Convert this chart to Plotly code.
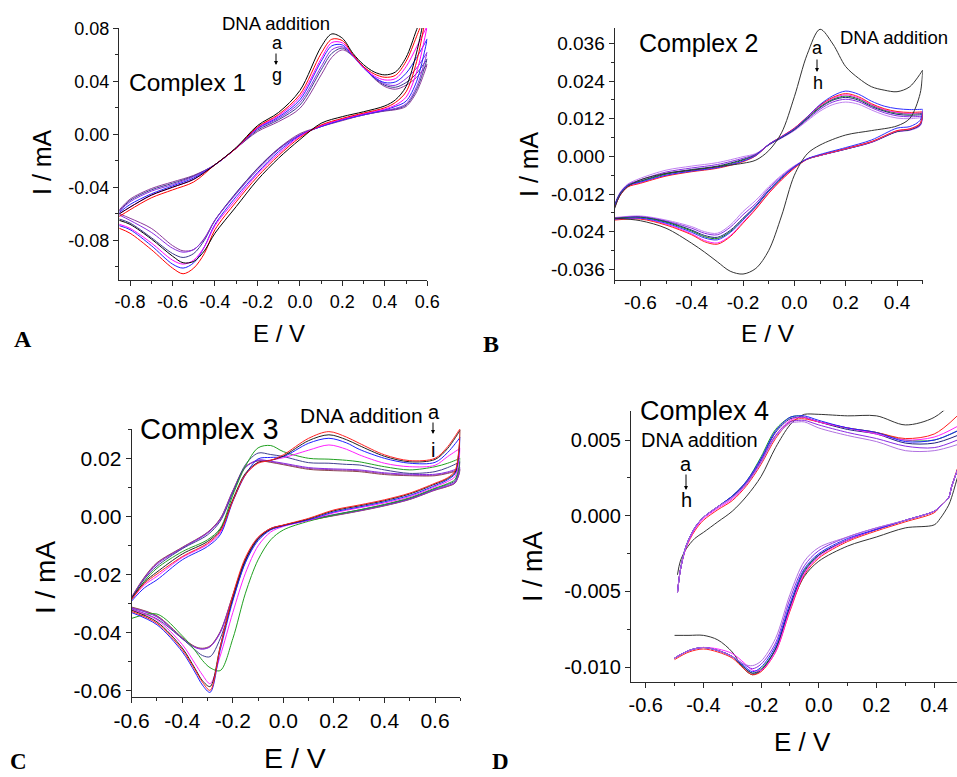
import plotly.graph_objects as go

# ---------------- Complex 1 (panel A) ----------------
A_LABELS = ["a", "b", "c", "d", "e", "f", "g"]
A_E_FWD = [-0.85, -0.8, -0.7, -0.6, -0.5, -0.4, -0.3, -0.2, -0.1, 0.0, 0.1, 0.15,
           0.2, 0.25, 0.3, 0.35, 0.4, 0.45, 0.5, 0.55, 0.6]
A_E_REV = [0.6, 0.55, 0.5, 0.45, 0.4, 0.3, 0.2, 0.1, 0.0, -0.1, -0.2, -0.3, -0.4,
           -0.45, -0.5, -0.55, -0.6, -0.7, -0.8, -0.85]
A_FWD = [
    [-0.060, -0.055, -0.046, -0.040, -0.034, -0.023, -0.010, 0.0065, 0.0165, 0.033, 0.066, 0.0757, 0.0725, 0.061, 0.0525, 0.047, 0.0448, 0.047, 0.058, 0.079, 0.100],
    [-0.062, -0.057, -0.048, -0.042, -0.036, -0.023, -0.0105, 0.0055, 0.015, 0.030, 0.061, 0.0717, 0.0707, 0.060, 0.051, 0.0455, 0.043, 0.0445, 0.055, 0.074, 0.095],
    [-0.060, -0.055, -0.046, -0.040, -0.034, -0.023, -0.0105, 0.005, 0.014, 0.028, 0.057, 0.0692, 0.069, 0.0595, 0.0505, 0.044, 0.041, 0.042, 0.051, 0.066, 0.082],
    [-0.059, -0.053, -0.045, -0.039, -0.033, -0.023, -0.0105, 0.0045, 0.013, 0.026, 0.055, 0.0667, 0.0674, 0.059, 0.050, 0.043, 0.039, 0.0395, 0.046, 0.058, 0.072],
    [-0.058, -0.051, -0.043, -0.038, -0.032, -0.023, -0.0105, 0.004, 0.012, 0.024, 0.051, 0.0637, 0.066, 0.0595, 0.0505, 0.043, 0.038, 0.037, 0.042, 0.050, 0.062],
    [-0.058, -0.050, -0.042, -0.037, -0.0315, -0.023, -0.0105, 0.003, 0.011, 0.022, 0.0486, 0.061, 0.065, 0.059, 0.0505, 0.0425, 0.037, 0.0355, 0.039, 0.046, 0.057],
    [-0.057, -0.049, -0.041, -0.036, -0.031, -0.023, -0.0105, 0.002, 0.0096, 0.0196, 0.0448, 0.058, 0.0637, 0.059, 0.051, 0.042, 0.036, 0.034, 0.037, 0.043, 0.053],
]
A_REV = [
    [0.100, 0.062, 0.036, 0.026, 0.0214, 0.017, 0.0133, 0.0083, -0.004, -0.018, -0.0345, -0.0546, -0.0747, -0.088, -0.096, -0.097, -0.092, -0.079, -0.068, -0.065],
    [0.095, 0.055, 0.032, 0.024, 0.020, 0.016, 0.012, 0.007, -0.0025, -0.016, -0.032, -0.051, -0.072, -0.090, -0.101, -0.1053, -0.101, -0.087, -0.0747, -0.071],
    [0.082, 0.047, 0.028, 0.022, 0.019, 0.0155, 0.0115, 0.0065, -0.0015, -0.0145, -0.030, -0.049, -0.069, -0.085, -0.095, -0.098, -0.095, -0.082, -0.071, -0.068],
    [0.072, 0.040, 0.025, 0.021, 0.0185, 0.015, 0.011, 0.006, -0.001, -0.013, -0.029, -0.047, -0.068, -0.085, -0.097, -0.101, -0.098, -0.084, -0.072, -0.069],
    [0.062, 0.036, 0.023, 0.0195, 0.018, 0.0146, 0.0108, 0.0058, -0.0005, -0.0115, -0.027, -0.045, -0.065, -0.079, -0.087, -0.089, -0.086, -0.074, -0.065, -0.061],
    [0.057, 0.034, 0.022, 0.019, 0.0178, 0.0146, 0.0108, 0.0058, -0.0005, -0.011, -0.026, -0.044, -0.065, -0.080, -0.090, -0.093, -0.090, -0.078, -0.067, -0.064],
    [0.053, 0.032, 0.021, 0.0185, 0.0175, 0.0146, 0.0103, 0.0058, 0.0005, -0.0106, -0.0257, -0.0445, -0.0647, -0.0785, -0.087, -0.088, -0.084, -0.071, -0.0634, -0.060],
]
A_XTICKS = [-0.8, -0.6, -0.4, -0.2, 0.0, 0.2, 0.4, 0.6]
A_XTEXT = ["-0.8", "-0.6", "-0.4", "-0.2", "0.0", "0.2", "0.4", "0.6"]
A_YTICKS = [-0.08, -0.04, 0.0, 0.04, 0.08]
A_YTEXT = ["-0.08", "-0.04", "0.00", "0.04", "0.08"]

# ---------------- Complex 2 (panel B) ----------------
B_LABELS = ["a", "b", "c", "d", "e", "f", "g", "h"]
B_E_FWD = [-0.7, -0.68, -0.65, -0.6, -0.5, -0.4, -0.3, -0.2, -0.15, -0.1, -0.05, 0.0,
           0.05, 0.1, 0.15, 0.2, 0.25, 0.3, 0.35, 0.4, 0.45, 0.5]
B_E_REV = [0.5, 0.49, 0.45, 0.4, 0.3, 0.2, 0.1, 0.05, 0.0, -0.05, -0.1, -0.15, -0.2,
           -0.25, -0.3, -0.35, -0.4, -0.5, -0.6, -0.7]
B_FWD = [
    [-0.0166, -0.0125, -0.0097, -0.0075, -0.0054, -0.0044, -0.0033, -0.0022, -0.0012, 0.0018, 0.0075, 0.0190, 0.0325, 0.0405, 0.0358, 0.0286, 0.0249, 0.0222, 0.0211, 0.0206, 0.0222, 0.0275],
    [-0.0158, -0.0122, -0.0094, -0.0082, -0.0060, -0.0047, -0.0036, -0.0015, 0.0003, 0.0038, 0.0062, 0.0088, 0.0125, 0.0165, 0.0193, 0.0208, 0.0198, 0.0176, 0.0160, 0.0152, 0.0149, 0.0150],
    [-0.0162, -0.0126, -0.0098, -0.0086, -0.0063, -0.0049, -0.0038, -0.0017, 0.0002, 0.0038, 0.0063, 0.0090, 0.0126, 0.0163, 0.0188, 0.0200, 0.0190, 0.0168, 0.0152, 0.0143, 0.0140, 0.0142],
    [-0.0161, -0.0125, -0.0097, -0.0084, -0.0061, -0.0047, -0.0036, -0.0015, 0.0003, 0.0038, 0.0063, 0.0090, 0.0125, 0.0161, 0.0185, 0.0196, 0.0186, 0.0165, 0.0149, 0.0140, 0.0137, 0.0139],
    [-0.0157, -0.0121, -0.0094, -0.0080, -0.0057, -0.0044, -0.0033, -0.0012, 0.0004, 0.0037, 0.0061, 0.0087, 0.0122, 0.0158, 0.0182, 0.0192, 0.0183, 0.0163, 0.0147, 0.0138, 0.0135, 0.0137],
    [-0.0157, -0.0120, -0.0093, -0.0079, -0.0055, -0.0042, -0.0031, -0.0010, 0.0005, 0.0037, 0.0060, 0.0085, 0.0120, 0.0155, 0.0179, 0.0188, 0.0179, 0.0159, 0.0144, 0.0134, 0.0131, 0.0133],
    [-0.0155, -0.0118, -0.0091, -0.0075, -0.0050, -0.0037, -0.0026, -0.0006, 0.0007, 0.0037, 0.0059, 0.0084, 0.0117, 0.0150, 0.0173, 0.0182, 0.0174, 0.0155, 0.0139, 0.0129, 0.0126, 0.0128],
    [-0.0153, -0.0116, -0.0089, -0.0070, -0.0044, -0.0031, -0.0020, -0.0001, 0.0009, 0.0036, 0.0058, 0.0082, 0.0113, 0.0144, 0.0165, 0.0173, 0.0166, 0.0148, 0.0132, 0.0122, 0.0120, 0.0124],
]
B_REV = [
    [0.0275, 0.0200, 0.0121, 0.0097, 0.0082, 0.0068, 0.0036, 0.0008, -0.0060, -0.0190, -0.0300, -0.0357, -0.0375, -0.0366, -0.0336, -0.0305, -0.0277, -0.0229, -0.0205, -0.0197],
    [0.0150, 0.0115, 0.0095, 0.0090, 0.0052, 0.0028, 0.0006, -0.0008, -0.0034, -0.0068, -0.0110, -0.0158, -0.0203, -0.0243, -0.0266, -0.0260, -0.0242, -0.0213, -0.0197, -0.0200],
    [0.0142, 0.0105, 0.0088, 0.0082, 0.0047, 0.0025, 0.0004, -0.0009, -0.0038, -0.0075, -0.0118, -0.0168, -0.0213, -0.0256, -0.0280, -0.0272, -0.0250, -0.0219, -0.0200, -0.0203],
    [0.0139, 0.0104, 0.0087, 0.0081, 0.0046, 0.0024, 0.0003, -0.0009, -0.0037, -0.0074, -0.0117, -0.0166, -0.0210, -0.0253, -0.0276, -0.0268, -0.0247, -0.0216, -0.0198, -0.0201],
    [0.0137, 0.0103, 0.0086, 0.0080, 0.0046, 0.0024, 0.0003, -0.0009, -0.0035, -0.0070, -0.0111, -0.0160, -0.0201, -0.0240, -0.0262, -0.0256, -0.0238, -0.0210, -0.0195, -0.0199],
    [0.0133, 0.0101, 0.0085, 0.0079, 0.0045, 0.0023, 0.0003, -0.0009, -0.0034, -0.0068, -0.0108, -0.0157, -0.0197, -0.0236, -0.0258, -0.0252, -0.0235, -0.0208, -0.0194, -0.0198],
    [0.0128, 0.0099, 0.0084, 0.0079, 0.0045, 0.0023, 0.0003, -0.0008, -0.0032, -0.0064, -0.0102, -0.0150, -0.0186, -0.0226, -0.0250, -0.0245, -0.0229, -0.0206, -0.0192, -0.0197],
    [0.0124, 0.0097, 0.0083, 0.0078, 0.0044, 0.0023, 0.0003, -0.0008, -0.0030, -0.0060, -0.0097, -0.0140, -0.0176, -0.0219, -0.0245, -0.0240, -0.0224, -0.0203, -0.0190, -0.0195],
]
B_XTICKS = [-0.6, -0.4, -0.2, 0.0, 0.2, 0.4]
B_XTEXT = ["-0.6", "-0.4", "-0.2", "0.0", "0.2", "0.4"]
B_YTICKS = [-0.036, -0.024, -0.012, 0.0, 0.012, 0.024, 0.036]
B_YTEXT = ["-0.036", "-0.024", "-0.012", "0.000", "0.012", "0.024", "0.036"]

# ---------------- Complex 3 (panel C) ----------------
C_LABELS = ["a", "b", "c", "d", "e", "f", "g", "h", "i"]
C_E_FWD = [-0.6, -0.55, -0.5, -0.4, -0.3, -0.25, -0.2, -0.15, -0.1, -0.05, 0.0, 0.1,
           0.18, 0.25, 0.3, 0.4, 0.5, 0.6, 0.65, 0.7]
C_E_REV = [0.7, 0.68, 0.65, 0.6, 0.5, 0.4, 0.3, 0.2, 0.1, 0.0, -0.05, -0.1, -0.15,
           -0.2, -0.25, -0.29, -0.32, -0.35, -0.4, -0.5, -0.6]
C_FWD = [
    [-0.0285, -0.0230, -0.0197, -0.0137, -0.0091, -0.0050, 0.0055, 0.0145, 0.0185, 0.0195, 0.0214, 0.0271, 0.0294, 0.0275, 0.0254, 0.0214, 0.0194, 0.0202, 0.0242, 0.0306],
    [-0.0280, -0.0225, -0.0190, -0.0128, -0.0085, -0.0045, 0.0060, 0.0150, 0.0188, 0.0195, 0.0210, 0.0263, 0.0283, 0.0266, 0.0246, 0.0209, 0.0190, 0.0198, 0.0236, 0.0300],
    [-0.0290, -0.0245, -0.0217, -0.0148, -0.0102, -0.0062, 0.0053, 0.0145, 0.0200, 0.0205, 0.0208, 0.0254, 0.0271, 0.0255, 0.0233, 0.0202, 0.0185, 0.0188, 0.0222, 0.0275],
    [-0.0285, -0.0235, -0.0205, -0.0140, -0.0095, -0.0055, 0.0055, 0.0145, 0.0188, 0.0196, 0.0204, 0.0230, 0.0248, 0.0233, 0.0214, 0.0185, 0.0173, 0.0178, 0.0208, 0.0237],
    [-0.0285, -0.0222, -0.0177, -0.0120, -0.0079, -0.0040, 0.0075, 0.0175, 0.0238, 0.0246, 0.0225, 0.0202, 0.0199, 0.0195, 0.0190, 0.0173, 0.0162, 0.0173, 0.0185, 0.0202],
    [-0.0280, -0.0215, -0.0170, -0.0110, -0.0062, -0.0015, 0.0082, 0.0180, 0.0220, 0.0215, 0.0208, 0.0187, 0.0185, 0.0181, 0.0179, 0.0162, 0.0150, 0.0156, 0.0170, 0.0190],
    [-0.0278, -0.0212, -0.0163, -0.0108, -0.0056, -0.0010, 0.0087, 0.0170, 0.0196, 0.0192, 0.0185, 0.0170, 0.0166, 0.0164, 0.0162, 0.0152, 0.0147, 0.0147, 0.0155, 0.0170],
    [-0.0278, -0.0210, -0.0160, -0.0106, -0.0054, -0.0008, 0.0089, 0.0172, 0.0195, 0.0190, 0.0182, 0.0167, 0.0163, 0.0161, 0.0159, 0.0149, 0.0144, 0.0144, 0.0152, 0.0165],
    [-0.0276, -0.0208, -0.0158, -0.0105, -0.0053, -0.0006, 0.0090, 0.0173, 0.0193, 0.0188, 0.0180, 0.0164, 0.0160, 0.0158, 0.0156, 0.0146, 0.0142, 0.0142, 0.0150, 0.0162],
]
C_REV = [
    [0.0306, 0.0160, 0.0135, 0.0116, 0.0082, 0.0059, 0.0041, 0.0024, -0.0005, -0.0028, -0.0040, -0.0070, -0.0140, -0.0270, -0.0450, -0.0598, -0.0570, -0.0527, -0.0458, -0.0367, -0.0326],
    [0.0300, 0.0155, 0.0132, 0.0113, 0.0079, 0.0056, 0.0038, 0.0021, -0.0007, -0.0029, -0.0042, -0.0075, -0.0148, -0.0278, -0.0448, -0.0585, -0.0565, -0.0522, -0.0452, -0.0362, -0.0322],
    [0.0275, 0.0150, 0.0128, 0.0108, 0.0074, 0.0052, 0.0034, 0.0017, -0.0010, -0.0031, -0.0045, -0.0082, -0.0158, -0.0290, -0.0460, -0.0605, -0.0580, -0.0535, -0.0465, -0.0372, -0.0330],
    [0.0237, 0.0140, 0.0122, 0.0104, 0.0070, 0.0048, 0.0031, 0.0014, -0.0012, -0.0033, -0.0052, -0.0100, -0.0194, -0.0330, -0.0480, -0.0575, -0.0545, -0.0505, -0.0440, -0.0355, -0.0320],
    [0.0202, 0.0130, 0.0115, 0.0099, 0.0066, 0.0043, 0.0024, 0.0006, -0.0015, -0.0045, -0.0079, -0.0148, -0.0263, -0.0420, -0.0530, -0.0520, -0.0495, -0.0460, -0.0410, -0.0335, -0.0350],
    [0.0190, 0.0125, 0.0112, 0.0097, 0.0064, 0.0042, 0.0024, 0.0008, -0.0010, -0.0030, -0.0043, -0.0078, -0.0155, -0.0285, -0.0420, -0.0482, -0.0478, -0.0458, -0.0420, -0.0352, -0.0318],
    [0.0170, 0.0120, 0.0108, 0.0094, 0.0062, 0.0040, 0.0022, 0.0006, -0.0010, -0.0029, -0.0041, -0.0075, -0.0150, -0.0275, -0.0400, -0.0448, -0.0456, -0.0450, -0.0420, -0.0345, -0.0315],
    [0.0165, 0.0118, 0.0106, 0.0093, 0.0061, 0.0039, 0.0021, 0.0005, -0.0011, -0.0029, -0.0040, -0.0073, -0.0148, -0.0272, -0.0398, -0.0447, -0.0455, -0.0449, -0.0418, -0.0343, -0.0313],
    [0.0162, 0.0117, 0.0105, 0.0092, 0.0060, 0.0038, 0.0020, 0.0004, -0.0012, -0.0029, -0.0040, -0.0072, -0.0146, -0.0270, -0.0396, -0.0445, -0.0453, -0.0447, -0.0416, -0.0341, -0.0311],
]
C_XTICKS = [-0.6, -0.4, -0.2, 0.0, 0.2, 0.4, 0.6]
C_XTEXT = ["-0.6", "-0.4", "-0.2", "0.0", "0.2", "0.4", "0.6"]
C_YTICKS = [-0.06, -0.04, -0.02, 0.0, 0.02]
C_YTEXT = ["-0.06", "-0.04", "-0.02", "0.00", "0.02"]

# ---------------- Complex 4 (panel D) ----------------
D_LABELS = ["a", "b", "c", "d", "e", "f", "g", "h"]
D_E_FWD = [-0.49, -0.48, -0.46, -0.43, -0.4, -0.35, -0.3, -0.25, -0.2, -0.15, -0.1,
           -0.07, -0.05, 0.0, 0.1, 0.2, 0.3, 0.4, 0.48]
D_E_REV = [0.48, 0.46, 0.45, 0.42, 0.4, 0.3, 0.2, 0.1, 0.0, -0.05, -0.1, -0.15, -0.2,
           -0.23, -0.26, -0.3, -0.35, -0.4, -0.45, -0.5]
D_FWD = [
    [-0.0039, -0.0030, -0.0022, -0.0015, -0.0011, -0.0004, 0.0003, 0.0013, 0.0026, 0.0045, 0.0060, 0.0065, 0.0067, 0.0067, 0.0066, 0.0066, 0.0060, 0.0065, 0.0078],
    [-0.0051, -0.0036, -0.0020, -0.0008, -0.0001, 0.0006, 0.0013, 0.0023, 0.0039, 0.0057, 0.0065, 0.0066, 0.0065, 0.0062, 0.0058, 0.0055, 0.0050, 0.0050, 0.0056],
    [-0.0051, -0.0036, -0.0020, -0.0008, -0.0001, 0.0006, 0.0013, 0.0023, 0.0038, 0.0056, 0.0065, 0.0066, 0.0066, 0.0063, 0.0058, 0.0055, 0.0049, 0.0050, 0.0056],
    [-0.0051, -0.0036, -0.0020, -0.0008, -0.0001, 0.0006, 0.0013, 0.0022, 0.0037, 0.0055, 0.0064, 0.0065, 0.0065, 0.0062, 0.0057, 0.0054, 0.0048, 0.0048, 0.0053],
    [-0.0051, -0.0036, -0.0021, -0.0010, -0.0003, 0.0004, 0.0010, 0.0020, 0.0034, 0.0051, 0.0062, 0.0064, 0.0064, 0.0062, 0.0058, 0.0055, 0.0051, 0.0054, 0.0066],
    [-0.0051, -0.0036, -0.0021, -0.0009, -0.0002, 0.0005, 0.0011, 0.0021, 0.0036, 0.0053, 0.0063, 0.0065, 0.0065, 0.0062, 0.0058, 0.0054, 0.0050, 0.0052, 0.0059],
    [-0.0051, -0.0036, -0.0020, -0.0008, -0.0001, 0.0006, 0.0012, 0.0022, 0.0036, 0.0053, 0.0062, 0.0063, 0.0063, 0.0060, 0.0055, 0.0051, 0.0046, 0.0045, 0.0050],
    [-0.0051, -0.0036, -0.0020, -0.0008, -0.0001, 0.0006, 0.0012, 0.0021, 0.0035, 0.0052, 0.0061, 0.0062, 0.0062, 0.0058, 0.0053, 0.0049, 0.0043, 0.0043, 0.0047],
]
D_REV = [
    [0.0025, 0.0012, 0.0007, -0.0002, -0.0006, -0.0008, -0.0014, -0.0020, -0.0030, -0.0040, -0.0061, -0.0088, -0.0102, -0.0105, -0.0101, -0.0090, -0.0082, -0.0079, -0.0079, -0.0079],
    [0.0030, 0.0019, 0.0012, 0.0006, 0.0003, -0.0003, -0.0009, -0.0016, -0.0026, -0.0036, -0.0060, -0.0088, -0.0101, -0.0104, -0.0100, -0.0093, -0.0089, -0.0087, -0.0089, -0.0094],
    [0.0030, 0.0019, 0.0012, 0.0006, 0.0003, -0.0003, -0.0009, -0.0015, -0.0025, -0.0035, -0.0058, -0.0086, -0.0100, -0.0103, -0.0099, -0.0093, -0.0089, -0.0087, -0.0089, -0.0094],
    [0.0030, 0.0019, 0.0012, 0.0006, 0.0003, -0.0003, -0.0009, -0.0016, -0.0026, -0.0037, -0.0060, -0.0088, -0.0102, -0.0104, -0.0100, -0.0093, -0.0089, -0.0087, -0.0089, -0.0094],
    [0.0031, 0.0019, 0.0012, 0.0006, 0.0002, -0.0004, -0.0010, -0.0017, -0.0028, -0.0039, -0.0063, -0.0090, -0.0103, -0.0105, -0.0101, -0.0094, -0.0090, -0.0088, -0.0090, -0.0095],
    [0.0030, 0.0019, 0.0012, 0.0006, 0.0003, -0.0003, -0.0009, -0.0016, -0.0027, -0.0038, -0.0062, -0.0090, -0.0102, -0.0102, -0.0097, -0.0091, -0.0088, -0.0087, -0.0089, -0.0094],
    [0.0030, 0.0019, 0.0012, 0.0006, 0.0003, -0.0003, -0.0008, -0.0014, -0.0023, -0.0033, -0.0055, -0.0084, -0.0098, -0.0101, -0.0098, -0.0093, -0.0089, -0.0087, -0.0089, -0.0094],
    [0.0030, 0.0019, 0.0012, 0.0006, 0.0003, -0.0003, -0.0008, -0.0014, -0.0021, -0.0030, -0.0052, -0.0081, -0.0096, -0.0099, -0.0098, -0.0093, -0.0089, -0.0087, -0.0089, -0.0094],
]
D_XTICKS = [-0.6, -0.4, -0.2, 0.0, 0.2, 0.4]
D_XTEXT = ["-0.6", "-0.4", "-0.2", "0.0", "0.2", "0.4"]
D_YTICKS = [-0.010, -0.005, 0.0, 0.005]
D_YTEXT = ["-0.010", "-0.005", "0.000", "0.005"]

# ---------------- styling ----------------
A_COLORS = ["#000000", "#ff0000", "#ff00ff", "#2020ff", "#8a2be2", "#3a3a8c", "#8b3a9b"]
B_COLORS = ["#333333", "#3030ff", "#ff2020", "#ff20ff", "#108010", "#202080", "#8a2be2", "#c080f0"]
C_COLORS = ["#ff2020", "#222222", "#2020ff", "#ff20ff", "#20a020", "#404090", "#8a2be2", "#9a40a0", "#8b4545"]
D_COLORS = ["#333333", "#20a020", "#2020ff", "#202080", "#ff2020", "#ff20ff", "#8a2be2", "#b070e0"]
# drawing order (last drawn ends up on top)
A_ORDER = [6, 5, 4, 3, 2, 1, 0]
B_ORDER = [7, 6, 5, 4, 3, 2, 1, 0]
C_ORDER = [8, 7, 6, 5, 4, 3, 2, 1, 0]
D_ORDER = [0, 1, 3, 4, 5, 2, 6, 7]

W, H = 957, 777
SANS = "Liberation Sans, Arial, sans-serif"
SERIF = "Liberation Serif, Times New Roman, serif"
AXC = "#2a2a2a"


def fx(p):
    return p / W


def fy(p):
    return 1 - p / H


fig = go.Figure()

panels = [
    ("", A_E_FWD, A_E_REV, A_FWD, A_REV, A_COLORS, A_LABELS, A_ORDER, False),
    ("2", B_E_FWD, B_E_REV, B_FWD, B_REV, B_COLORS, B_LABELS, B_ORDER, False),
    ("3", C_E_FWD, C_E_REV, C_FWD, C_REV, C_COLORS, C_LABELS, C_ORDER, False),
    ("4", D_E_FWD, D_E_REV, D_FWD, D_REV, D_COLORS, D_LABELS, D_ORDER, True),
]

for suffix, ef, er, fwd, rev, cols, labs, order, gap in panels:
    for k in order:
        if gap:
            xs = ef + [None] + er
            ys = fwd[k] + [None] + rev[k]
        else:
            xs = ef + er
            ys = fwd[k] + rev[k]
        fig.add_trace(go.Scatter(
            x=xs, y=ys, mode="lines", name=labs[k], showlegend=False,
            line=dict(color=cols[k], width=1, shape="spline", smoothing=0.9),
            xaxis="x" + suffix, yaxis="y" + suffix, hoverinfo="skip",
        ))


def axis(domain, rng, tickvals, ticktext, minor_dtick, size, anchor):
    return dict(
        domain=domain, range=rng, anchor=anchor, automargin=False,
        showline=True, linecolor=AXC, linewidth=1.3,
        showgrid=False, zeroline=False,
        ticks="outside", ticklen=5, tickwidth=1.2, tickcolor=AXC,
        tickmode="array", tickvals=tickvals, ticktext=ticktext,
        tickfont=dict(family=SANS, size=size, color="#000000"),
        minor=dict(ticks="outside", ticklen=3, tickwidth=1, tickcolor=AXC,
                   tickmode="linear", tick0=0.0, dtick=minor_dtick, showgrid=False),
        fixedrange=True,
    )


fig.update_layout(
    width=W, height=H, autosize=False,
    margin=dict(l=0, r=0, t=0, b=0, pad=0, autoexpand=False),
    paper_bgcolor="white", plot_bgcolor="white", showlegend=False,
    xaxis=axis([fx(119), fx(427.3)], [-0.852, 0.6], A_XTICKS, A_XTEXT, 0.1, 18, "y"),
    yaxis=axis([fy(280), fy(28)], [-0.110, 0.0802], A_YTICKS, A_YTEXT, 0.02, 18, "x"),
    xaxis2=axis([fx(614.7), fx(922.7)], [-0.7, 0.5], B_XTICKS, B_XTEXT, 0.1, 19, "y2"),
    yaxis2=axis([fy(280), fy(28)], [-0.0394, 0.0409], B_YTICKS, B_YTEXT, 0.006, 19, "x2"),
    xaxis3=axis([fx(131.7), fx(460.3)], [-0.6, 0.7], C_XTICKS, C_XTEXT, 0.1, 21, "y3"),
    yaxis3=axis([fy(696.7), fy(429.3)], [-0.062, 0.0302], C_YTICKS, C_YTEXT, 0.01, 21, "x3"),
    xaxis4=axis([fx(631), 1.0], [-0.651, 0.479], D_XTICKS, D_XTEXT, 0.1, 20, "y4"),
    yaxis4=axis([fy(682.3), fy(410.7)], [-0.0110, 0.00694], D_YTICKS, D_YTEXT, 0.0025, 20, "x4"),
)

ann = []


def text(s, x, y, size, family=SANS, angle=0, xanchor="center", yanchor="middle", bold=False):
    ann.append(dict(
        text=("<b>%s</b>" % s) if bold else s,
        x=fx(x), y=fy(y), xref="paper", yref="paper",
        xanchor=xanchor, yanchor=yanchor, showarrow=False, textangle=angle,
        font=dict(family=family, size=size, color="#000000"),
    ))


def arrow(x, y0, y1):
    # arrow pointing down from pixel row y0 to y1
    ann.append(dict(
        text="", x=fx(x), y=fy(y1), xref="paper", yref="paper",
        ax=0, ay=-(y1 - y0), axref="pixel", ayref="pixel",
        showarrow=True, arrowhead=2, arrowsize=0.8, arrowwidth=1, arrowcolor="#000000",
    ))


# axis titles
text("I / mA", 42, 162, 25, angle=-90)
text("E / V", 279, 334, 24)
text("I / mA", 529, 164, 25, angle=-90)
text("E / V", 768, 333, 24.5)
text("I / mA", 45, 578, 28, angle=-90)
text("E / V", 295, 758, 28.5)
text("I / mA", 533, 567, 27, angle=-90)
text("E / V", 802, 742, 26)

# panel letters
text("A", 23, 339, 24, family=SERIF, bold=True)
text("B", 491, 344, 24, family=SERIF, bold=True)
text("C", 18, 776, 23, family=SERIF, yanchor="bottom", bold=True)
text("D", 500, 776, 23, family=SERIF, yanchor="bottom", bold=True)

# complex names
text("Complex 1", 127, 83, 24.5, xanchor="left")
text("Complex 2", 637, 43, 25, xanchor="left")
text("Complex 3", 138, 429, 29, xanchor="left")
text("Complex 4", 638, 411, 27, xanchor="left")

# DNA addition markers
text("DNA addition", 220, 23, 18.5, xanchor="left")
text("a", 277, 43, 18)
arrow(276, 52, 65)
text("g", 277, 75, 18)

text("DNA addition", 838, 37, 18.5, xanchor="left")
text("a", 817, 48, 18)
arrow(817, 58, 72)
text("h", 818, 83, 18)

text("DNA addition", 298, 415, 21, xanchor="left")
text("a", 434, 412, 20)
arrow(433, 421, 434)
text("i", 433, 450, 20)

text("DNA addition", 639, 440, 20, xanchor="left")
text("a", 686, 464, 20)
arrow(686, 473, 490)
text("h", 686, 500, 20)

fig.update_layout(annotations=ann)
fig.write_html(
    "out.html",
    config={"responsive": False, "displayModeBar": False},
    post_script="document.body.style.margin='0px';",
)
